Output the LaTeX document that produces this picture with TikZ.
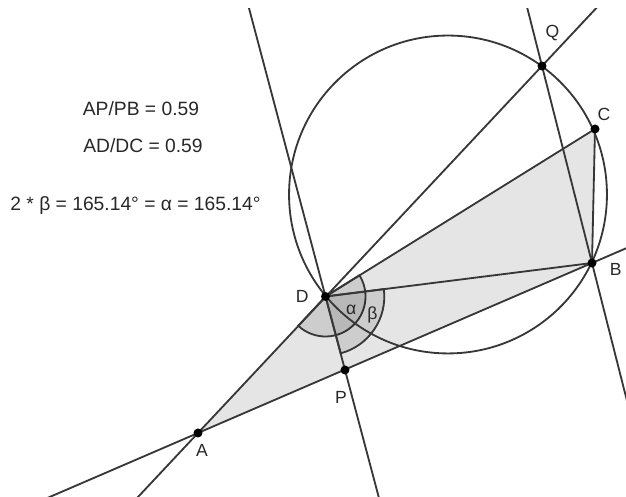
\documentclass[tikz,border=0pt]{standalone}
\usepackage{fontspec}
\setmainfont{Liberation Sans}
\usetikzlibrary{calc, math}
\definecolor{mygray}{RGB}{55,55,55}
\definecolor{mytext}{RGB}{40,40,40}

\begin{document}
\begin{tikzpicture}[x=0.025cm,y=0.025cm,
  line/.style={draw=mygray,line width=1.3},
  lbl/.style={text=mytext,font=\fontsize{12.5}{15}\selectfont,inner sep=0},
  txt/.style={text=mytext,font=\fontsize{13.7}{16}\selectfont,inner sep=0,anchor=base}]
\tikzmath{
\ra=1.0;
\rb=1.47;
}
\useasboundingbox (0,0) rectangle (626,497);

\coordinate (A) at (198,64);
\coordinate (P) at (345,127);
\coordinate (D) at (325.5,200.5);
\coordinate (B) at (592,234);
\coordinate (C) at (595,368);
\coordinate (Q) at (542,431);
\coordinate (O) at (448,302.5);

% quadrilateral and angles
\fill[black!10] (A) -- (B) -- (C) -- (D) -- cycle;
\filldraw[line,fill=black,fill opacity=0.1] (D) -- ++(227:\ra cm) arc[start angle=227,end angle=392,radius=\ra cm] -- cycle;
\filldraw[line,fill=black,fill opacity=0.1] (D) -- ++(-75:\rb cm) arc[start angle=-75,end angle=7.2,radius=\rb cm] -- cycle;

\begin{scope}
\clip (0,0) rectangle (626,488);
\draw[line] ($(A)!-1!(B)$) -- ($(A)!3!(B)$);
\draw[line] ($(A)!-1!(Q)$) -- ($(A)!2!(Q)$);
\draw[line] ($(P)!-2!(D)$) -- ($(P)!6!(D)$);
\draw[line] ($(Q)!-1!(B)$) -- ($(Q)!3!(B)$);
\end{scope}
\draw[line] (D) -- (C) -- (B) -- (D);
\draw[line] let \p1=($(D)-(O)$), \n1={veclen(\x1,\y1)} in (O) circle (\n1);

\foreach \p in {A,P,D,B,C,Q}
  \fill (\p) circle (3.2pt);

\node[lbl] (lA) at (202,47) {A};
\node[lbl] (lP) at (341,100) {P};
\node[lbl] (lD) at (302.3,200.3) {D};
\node[lbl] (lB) at (615.7,227.3) {B};
\node[lbl] (lC) at (604,382.5) {C};
\node[lbl] (lQ) at (552.5,464) {Q};
\node[lbl] (la) at (351.3,187) {α};
\node[lbl] (lb) at (372.5,182) {β};

\node[txt] (t1) at (141,381) {AP/PB = 0.59};
\node[txt] (t2) at (143,344) {AD/DC = 0.59};
\node[txt] (t3) at (135.5,286) {2 * β = 165.14° = α = 165.14°};

\end{tikzpicture}
\end{document}
